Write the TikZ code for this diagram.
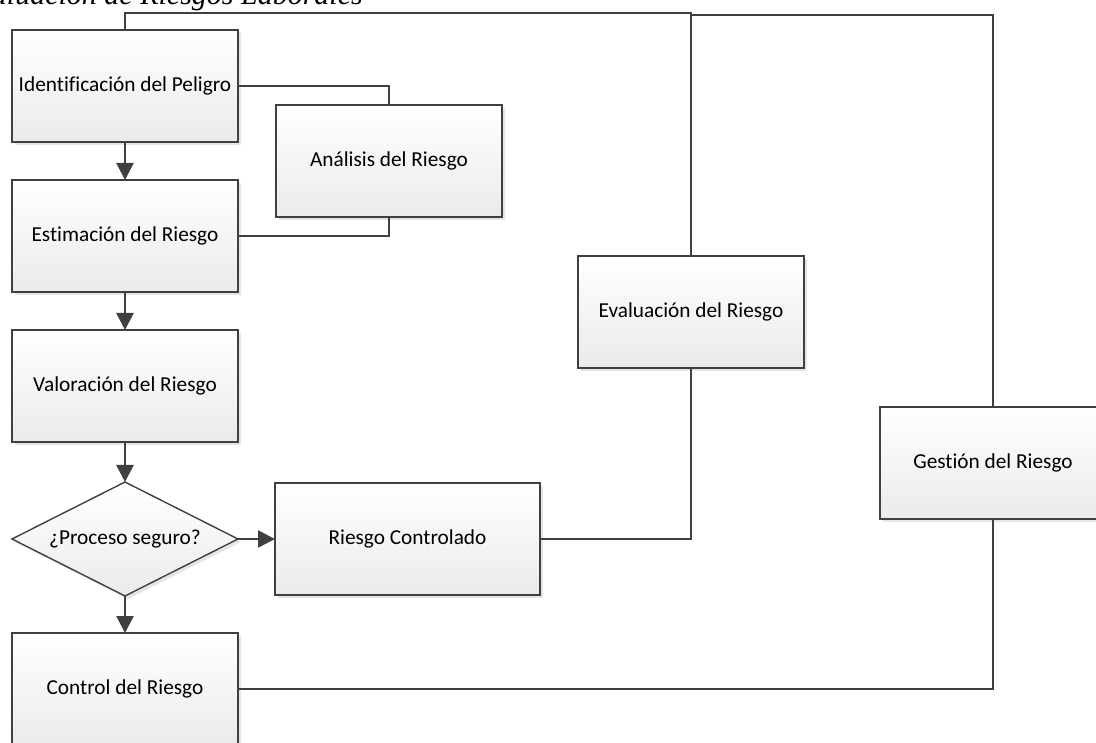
\documentclass[tikz,border=0pt]{standalone}
\usepackage{fontspec}
\setmainfont{Carlito}[Ligatures=NoCommon]
\newfontfamily\titlefont{Liberation Serif}
\usepackage{xcolor}
\usetikzlibrary{arrows.meta}
\usetikzlibrary{shapes.geometric}
\usetikzlibrary{shadows}
\definecolor{linegray}{HTML}{404040}

\begin{document}
\begin{tikzpicture}[x=1pt, y=-1pt,
    box/.style={draw=linegray, line width=1.4pt, top color=white, bottom color=black!8,
      drop shadow={shadow xshift=3pt, shadow yshift=-3pt, fill=black!25, opacity=0.4},
      minimum width=226pt, minimum height=112pt, inner sep=2pt, outer sep=0pt,
      font=\fontsize{21.3}{25}\selectfont},
    decision/.style={box, diamond, aspect=2, inner sep=0pt, minimum height=114pt},
    flow/.style={draw=linegray, line width=2.6pt, -{Triangle[length=17pt, width=17pt]}},
    link/.style={draw=linegray, line width=1.3pt}]
    \useasboundingbox (0,0) rectangle (1096,743);
    % caption, cut at the top of the page
    \node[anchor=base east, inner sep=0pt, font=\titlefont\itshape\fontsize{30}{32}\selectfont]
      (caption) at (363,5) {Evaluación de Riesgos Laborales};
    % main column
    \node[box] (ident) at (125,86) {Identificación del Peligro};
    \node[box] (estim) at (125,236) {Estimación del Riesgo};
    \node[box] (valor) at (125,386) {Valoración del Riesgo};
    \node[decision] (seguro) at (125,539) {¿Proceso seguro?};
    \node[box] (control) at (125,689) {Control del Riesgo};
    % side boxes
    \node[box] (analisis) at (389,161) {Análisis del Riesgo};
    \node[box, minimum width=265pt] (controlado) at (407.5,539) {Riesgo Controlado};
    \node[box] (evalua) at (691,312) {Evaluación del Riesgo};
    \node[box] (gestion) at (993,463) {Gestión del Riesgo};
    \coordinate (topa) at (691,13);
    \coordinate (topb) at (993,15);
    \draw[flow] (ident) -- (estim);
    \draw[flow] (estim) -- (valor);
    \draw[flow] (valor) -- (seguro);
    \draw[flow] (seguro) -- (control);
    \draw[flow] (seguro) -- (controlado);
    \draw[link] (ident.east) -| (analisis.north);
    \draw[link] (estim.east) -| (analisis.south);
    \draw[link] (ident.north) |- (topa) -- (evalua.north);
    \draw[link] (evalua.north) |- (topb) -- (gestion.north);
    \draw[link] (controlado.east) -| (evalua.south);
    \draw[link] (control.east) -| (gestion.south);
  \end{tikzpicture}
\end{document}
